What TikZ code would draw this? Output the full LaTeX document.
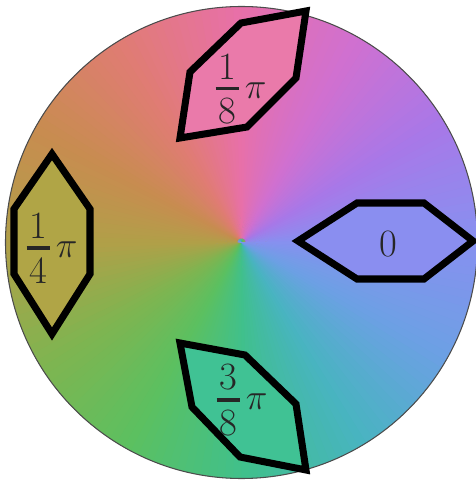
\documentclass[tikz,border=0pt]{standalone}
\usepackage{amsmath}

% key colours of the phase wheel, every 30 degrees
\definecolor{k0}{HTML}{8890F0}
\definecolor{k1}{HTML}{A878E8}
\definecolor{k2}{HTML}{D070D0}
\definecolor{k3}{HTML}{E870A8}
\definecolor{k4}{HTML}{E07C74}
\definecolor{k5}{HTML}{C88C50}
\definecolor{k6}{HTML}{B0A048}
\definecolor{k7}{HTML}{80B450}
\definecolor{k8}{HTML}{5CC060}
\definecolor{k9}{HTML}{40C08C}
\definecolor{k10}{HTML}{48B4C0}
\definecolor{k11}{HTML}{6CA0E4}
\colorlet{k12}{k0}

\definecolor{hzero}{HTML}{8A8EF0}
\definecolor{heighth}{HTML}{EA7AAA}
\definecolor{hquarter}{HTML}{B0A546}
\definecolor{hthree}{HTML}{40C294}

\newcommand{\wfrac}[2]{\ensuremath{\vcenter{\hbox{\vbox{%
  \hbox to 0.6em{\hss#1\hss}\kern4.5pt\hrule height 2pt\kern4.5pt%
  \hbox to 0.6em{\hss#2\hss}}}}}}

\begin{document}
\begin{tikzpicture}[x=0.02cm, y=0.02cm,
    hexa/.style={line width=4pt, draw=black},
    lbl/.style={font=\fontsize{22}{26}\selectfont, text=black!85, inner sep=0pt}]
    \useasboundingbox (0,0) rectangle (476,481);
    \coordinate (c) at (241.5,238.5);

    % Colour wheel
    \begin{scope}
        \clip (c) circle [radius=236];
        \fill[k3!50!k9] (c) circle [radius=236];
        \foreach \i in {0,...,11} {
            \foreach \j in {0,...,14} {
                \pgfmathtruncatemacro{\n}{\i+1}
                \pgfmathtruncatemacro{\p}{100-\j*100/15}
                \pgfmathsetmacro{\a}{30*\i+2*\j}
                \fill[color=k\i!\p!k\n] ([shift={(\a+181:4)}]c) -- ([shift={(\a:250)}]c) arc[start angle=\a, end angle=\a+2.6, radius=250] -- cycle;
            }
        }
    \end{scope}
    \draw[line width=0.6pt, black!70] (c) circle [radius=236];

    % Phase hexagons
    \draw[hexa, fill=hzero] (298,240) -- (357,278) -- (424,278) -- (473,240) -- (424,202) -- (357,202) -- cycle;
    \draw[hexa, fill=hquarter] (52,327) -- (90,272) -- (90,207) -- (52,147) -- (14,207) -- (14,272) -- cycle;
    \draw[hexa, fill=heighth] (306,470) -- (296,403) -- (247,354) -- (180,343) -- (190,409) -- (241,458) -- cycle;
    \draw[hexa, fill=hthree] (180,138) -- (245,126) -- (296,77) -- (306,11) -- (240,24) -- (192,74) -- cycle;

    \node[lbl] (lzero) at (388,237) {0};
    \node[lbl] (leighth) at (241,392) {$\wfrac{1}{8}\,\pi$};
    \node[lbl] (lquarter) at (52,233) {$\wfrac{1}{4}\,\pi$};
    \node[lbl] (lthree) at (242,81) {$\wfrac{3}{8}\,\pi$};
\end{tikzpicture}
\end{document}
